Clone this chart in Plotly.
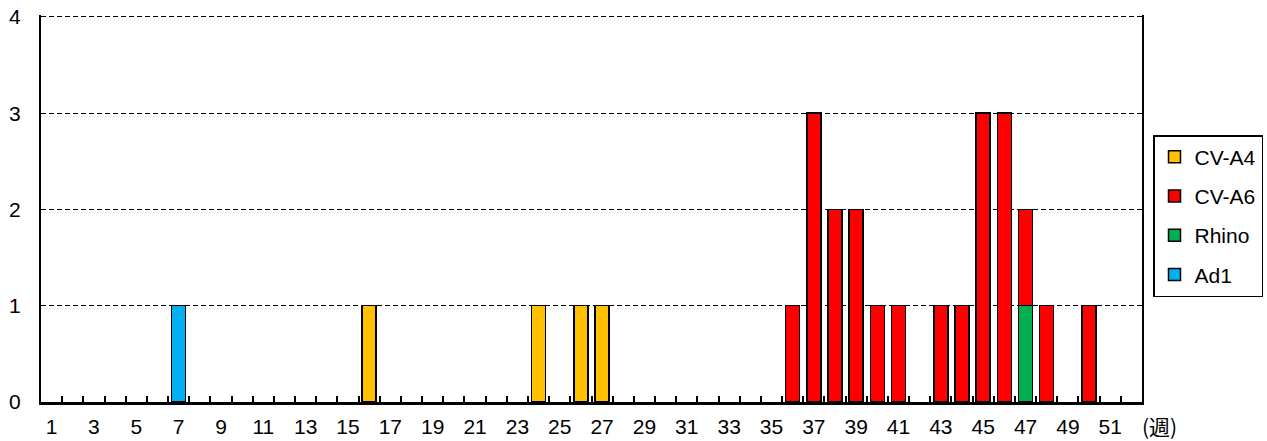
import plotly.graph_objects as go

weeks = list(range(1, 53))

ad1 = {7: 1}
cva4 = {16: 1, 24: 1, 26: 1, 27: 1}
cva6 = {36: 1, 37: 3, 38: 2, 39: 2, 40: 1, 41: 1, 43: 1, 44: 1, 45: 3, 46: 3, 47: 1, 48: 1, 50: 1}
rhino = {47: 1}

tick_labels = [str(w) for w in range(1, 52, 2)]

# stacking order bottom -> top, with legend rank
series = [
    ("Ad1", ad1, "#00B0F0", 4),
    ("Rhino", rhino, "#00B050", 3),
    ("CV-A6", cva6, "#FF0000", 2),
    ("CV-A4", cva4, "#FFC000", 1),
]

font = "Liberation Sans, Arial, sans-serif"
fs = 21

fig = go.Figure()
for name, data, color, rank in series:
    fig.add_trace(go.Bar(
        x=weeks,
        y=[data.get(w) for w in weeks],
        name=name,
        legendgroup=name,
        legendrank=rank,
        marker=dict(color=color, line=dict(color="black", width=1.5)),
        width=0.66,
    ))

# invisible trace carrying the label axis
fig.add_trace(go.Scatter(x=[weeks[0]], y=[None], xaxis="x2", showlegend=False,
                         hoverinfo="skip"))

fig.update_layout(
    barmode="stack",
    width=1267, height=441,
    margin=dict(l=41, r=125, t=15, b=39),
    plot_bgcolor="white", paper_bgcolor="white",
    font=dict(family=font, size=fs, color="black"),
    showlegend=True,
    legend=dict(
        xref="container", yref="container",
        x=1153 / 1267, y=1 - 135 / 441, xanchor="left", yanchor="top",
        traceorder="grouped",
        bordercolor="black", borderwidth=1.5,
        font=dict(size=fs, family=font),
        itemwidth=30,
        tracegroupgap=9,
    ),
    xaxis=dict(
        range=[0.5, 52.5],
        tickmode="array",
        tickvals=[w + 0.5 for w in weeks[:-1]],
        ticktext=[" " for w in weeks[:-1]],
        ticks="inside", ticklen=6, tickwidth=2, tickcolor="black",
        showgrid=False,
        showline=True, linecolor="black", linewidth=2.5,
        zeroline=False,
        automargin=False,
        layer="above traces",
    ),
    xaxis2=dict(
        overlaying="x", side="bottom",
        range=[0.5, 52.5],
        tickmode="array",
        tickvals=[int(t) for t in tick_labels],
        ticktext=tick_labels,
        ticks="", showgrid=False, showline=False, zeroline=False,
        automargin=False,
        tickfont=dict(size=fs),
        ticklabelstandoff=10,
    ),
    yaxis=dict(
        range=[0, 4.02],
        tickvals=[0, 1, 2, 3, 4],
        ticks="",
        showgrid=True, gridcolor="black", gridwidth=1, griddash="5px,3px",
        showline=True, linecolor="black", linewidth=2, mirror=True,
        zeroline=False,
        automargin=False,
        tickfont=dict(size=fs),
        ticklabelstandoff=14,
    ),
)

fig.add_annotation(
    text="(週)", xref="paper", yref="paper", x=0.998, y=-0.062,
    xanchor="left", yanchor="middle", showarrow=False,
    font=dict(size=fs, family="Noto Sans CJK JP"),
)

fig.write_html(
    "out.html",
    config={"displayModeBar": False},
    post_script="document.body.style.margin='0';document.body.style.overflow='hidden';",
)
